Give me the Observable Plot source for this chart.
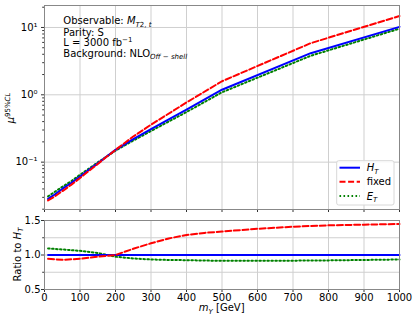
<!DOCTYPE html>
<html><head><meta charset="utf-8">
<script src="https://cdn.jsdelivr.net/npm/d3@7"></script>
<script src="https://cdn.jsdelivr.net/npm/@observablehq/plot@0.6"></script>
<style>
body{margin:0;background:#fff;}
#chart{position:relative;width:415px;height:318px;overflow:hidden;font-family:"DejaVu Sans",sans-serif;}
#chart svg{display:block;}
</style></head><body><div id="chart"></div>
<script>
// ---- data ----
const masses   = [10, 25, 50, 75, 100, 125, 150, 175, 200, 250, 300, 400, 500, 750, 1000];
const muHT     = [0.0285, 0.032, 0.040, 0.049, 0.061, 0.077, 0.096, 0.121, 0.152, 0.22, 0.31, 0.60, 1.19, 4.15, 10.2];
const muFixed  = [0.027, 0.030, 0.037, 0.046, 0.058, 0.074, 0.094, 0.120, 0.152, 0.24, 0.36, 0.77, 1.59, 5.85, 14.8];
const muET     = [0.031, 0.035, 0.043, 0.052, 0.065, 0.080, 0.099, 0.121, 0.148, 0.209, 0.29, 0.555, 1.09, 3.8, 9.6];

const ratioMasses = [10, 50, 100, 150, 200, 250, 300, 350, 400, 450, 500, 600, 700, 800, 900, 1000];
const ratioHT     = [1, 1, 1, 1, 1, 1, 1, 1, 1, 1, 1, 1, 1, 1, 1, 1];
const ratioFixed  = [0.945, 0.93, 0.945, 0.975, 1.0, 1.09, 1.17, 1.24, 1.29, 1.32, 1.34, 1.38, 1.41, 1.43, 1.44, 1.45];
const ratioET     = [1.095, 1.08, 1.06, 1.03, 0.975, 0.95, 0.935, 0.928, 0.925, 0.92, 0.915, 0.915, 0.918, 0.922, 0.928, 0.935];

const xTicks = [0, 100, 200, 300, 400, 500, 600, 700, 800, 900, 1000];
const logTicks = [0.1, 1, 10];
const logTickLabels = ["10⁻¹", "10⁰", "10¹"];
const ratioTicks = [0.5, 1.0, 1.5];
const ratioMinorTicks = [0.75, 1.25];

// ---- styles ----
const C_HT = "#0000ff", C_FIX = "#ff0000", C_ET = "#008000";
const GRID = "#cfcfcf", FRAME = "#888";
const FONT = "DejaVu Sans, sans-serif";

const topRows = (ys) => masses.map((m, i) => ({m, v: ys[i]}));
const botRows = (ys) => ratioMasses.map((m, i) => ({m, v: ys[i]}));

const minorLog = [];
for (let d = -2; d <= 1; d++) for (let k = 2; k <= 9; k++) {
  const v = k * Math.pow(10, d);
  if (v > 0.0198 && v < 21.2) minorLog.push(v);
}

const topPlot = Plot.plot({
  width: 415, height: 215,
  marginLeft: 44, marginRight: 16, marginTop: 5, marginBottom: 6,
  style: {fontFamily: FONT, fontSize: "10px", color: "#000", background: "transparent"},
  x: {domain: [0, 1000]},
  y: {type: "log", domain: [0.0198, 21.2]},
  marks: [
    Plot.gridX(xTicks, {stroke: GRID, strokeOpacity: 1}),
    Plot.gridY(logTicks, {stroke: GRID, strokeOpacity: 1}),
    Plot.axisX({ticks: xTicks, tickFormat: () => "", tickSize: 3, label: null, stroke: "#333"}),
    Plot.axisY({ticks: logTicks, tickFormat: d => logTickLabels[logTicks.indexOf(d)], tickSize: 3, tickPadding: 4, label: null, stroke: "#333"}),
    Plot.axisY({ticks: minorLog, tickFormat: () => "", tickSize: 1.8, label: null, stroke: "#333"}),
    Plot.line(topRows(muET), {x: "m", y: "v", stroke: C_ET, strokeWidth: 2, strokeDasharray: "1.6,2.4"}),
    Plot.line(topRows(muHT), {x: "m", y: "v", stroke: C_HT, strokeWidth: 2}),
    Plot.line(topRows(muFixed), {x: "m", y: "v", stroke: C_FIX, strokeWidth: 2, strokeDasharray: "6,2.6"}),
    Plot.frame({stroke: FRAME})
  ]
});

const botPlot = Plot.plot({
  width: 415, height: 103,
  marginLeft: 44, marginRight: 16, marginTop: 5, marginBottom: 29,
  style: {fontFamily: FONT, fontSize: "10px", color: "#000", background: "transparent"},
  x: {domain: [0, 1000]},
  y: {domain: [0.5, 1.5]},
  marks: [
    Plot.gridX(xTicks, {stroke: GRID, strokeOpacity: 1}),
    Plot.gridY([...ratioTicks, ...ratioMinorTicks], {stroke: GRID, strokeOpacity: 1}),
    Plot.axisX({ticks: xTicks, tickFormat: d => String(d), tickSize: 3, tickPadding: 1, label: null, stroke: "#333"}),
    Plot.axisY({ticks: ratioTicks, tickFormat: d => d.toFixed(1), tickSize: 3, tickPadding: 1, label: null, stroke: "#333"}),
    Plot.axisY({ticks: ratioMinorTicks, tickFormat: () => "", tickSize: 1.8, label: null, stroke: "#333"}),
    Plot.line(botRows(ratioET), {x: "m", y: "v", stroke: C_ET, strokeWidth: 2, strokeDasharray: "1.6,2.4"}),
    Plot.line(botRows(ratioHT), {x: "m", y: "v", stroke: C_HT, strokeWidth: 2}),
    Plot.line(botRows(ratioFixed), {x: "m", y: "v", stroke: C_FIX, strokeWidth: 2, strokeDasharray: "6,2.6"}),
    Plot.frame({stroke: FRAME})
  ]
});

const chart = document.getElementById("chart");
chart.appendChild(topPlot);
chart.appendChild(botPlot);

// ---- annotations (text with sub/superscripts) ----
const ts = d3.select(topPlot);
const ann = ts.append("g").attr("font-family", FONT).attr("font-size", 10).attr("fill", "#000").attr("text-anchor", "start");
function addLine(y, parts) {
  const t = ann.append("text").attr("x", 63.3).attr("y", y).attr("text-anchor", "start");
  parts.forEach(p => {
    const s = t.append("tspan").text(p.t);
    if (p.i) s.attr("font-style", "italic");
    if (p.fs) s.attr("font-size", p.fs);
    if (p.dy) s.attr("dy", p.dy);
  });
}
addLine(24.3, [{t: "Observable: "}, {t: "M", i: 1}, {t: "T", i: 1, fs: 7, dy: 2.5}, {t: "2, ", fs: 7}, {t: "t", i: 1, fs: 7}]);
addLine(35.7, [{t: "Parity: S"}]);
addLine(45.9, [{t: "L = 3000 fb"}, {t: "−1", fs: 7, dy: -4}]);
addLine(56.8, [{t: "Background: NLO"}, {t: "Off − shell", i: 1, fs: 7, dy: 2.5}]);

// y label top
const yl = ts.append("text").attr("transform", "translate(14,108) rotate(-90)")
  .attr("text-anchor", "middle").attr("font-family", FONT).attr("font-size", 10).attr("fill", "#000");
yl.append("tspan").text("μ").attr("font-style", "italic");
yl.append("tspan").text("95%").attr("font-size", 7).attr("dy", -4.2);
yl.append("tspan").text("CL").attr("font-size", 7).attr("font-style", "italic");

// legend
const lg = ts.append("g").attr("font-family", FONT).attr("font-size", 10).attr("fill", "#000").attr("text-anchor", "start");
lg.append("rect").attr("x", 336.7).attr("y", 160.7).attr("width", 57.3).attr("height", 44.3)
  .attr("rx", 2).attr("fill", "#fff").attr("fill-opacity", 0.85).attr("stroke", "#d8d8d8");
const entries = [
  {y: 167.7, c: C_HT, d: null, lab: [{t: "H", i: 1}, {t: "T", i: 1, fs: 7, dy: 2.5}]},
  {y: 181.7, c: C_FIX, d: "6,2.6", lab: [{t: "fixed"}]},
  {y: 196, c: C_ET, d: "1.6,2.4", lab: [{t: "E", i: 1}, {t: "T", i: 1, fs: 7, dy: 2.5}]}
];
entries.forEach(e => {
  const l = lg.append("line").attr("x1", 339.5).attr("x2", 360).attr("y1", e.y).attr("y2", e.y)
    .attr("stroke", e.c).attr("stroke-width", 2);
  if (e.d) l.attr("stroke-dasharray", e.d);
  const t = lg.append("text").attr("x", 366.7).attr("y", e.y + 3.6).attr("text-anchor", "start");
  e.lab.forEach(p => {
    const s = t.append("tspan").text(p.t);
    if (p.i) s.attr("font-style", "italic");
    if (p.fs) s.attr("font-size", p.fs);
    if (p.dy) s.attr("dy", p.dy);
  });
});

// bottom labels
const bs = d3.select(botPlot);
const rl = bs.append("text").attr("transform", "translate(20.5,39.5) rotate(-90)")
  .attr("text-anchor", "middle").attr("font-family", FONT).attr("font-size", 10).attr("fill", "#000");
rl.append("tspan").text("Ratio to ");
rl.append("tspan").text("H").attr("font-style", "italic");
rl.append("tspan").text("T").attr("font-style", "italic").attr("font-size", 7).attr("dy", 2.5);

const xl = bs.append("text").attr("x", 221.7).attr("y", 96)
  .attr("text-anchor", "middle").attr("font-family", FONT).attr("font-size", 10).attr("fill", "#000");
xl.append("tspan").text("m").attr("font-style", "italic");
xl.append("tspan").text("Y").attr("font-style", "italic").attr("font-size", 7).attr("dy", 2.5);
xl.append("tspan").text(" [GeV]").attr("dy", -2.5);
</script></body></html>
